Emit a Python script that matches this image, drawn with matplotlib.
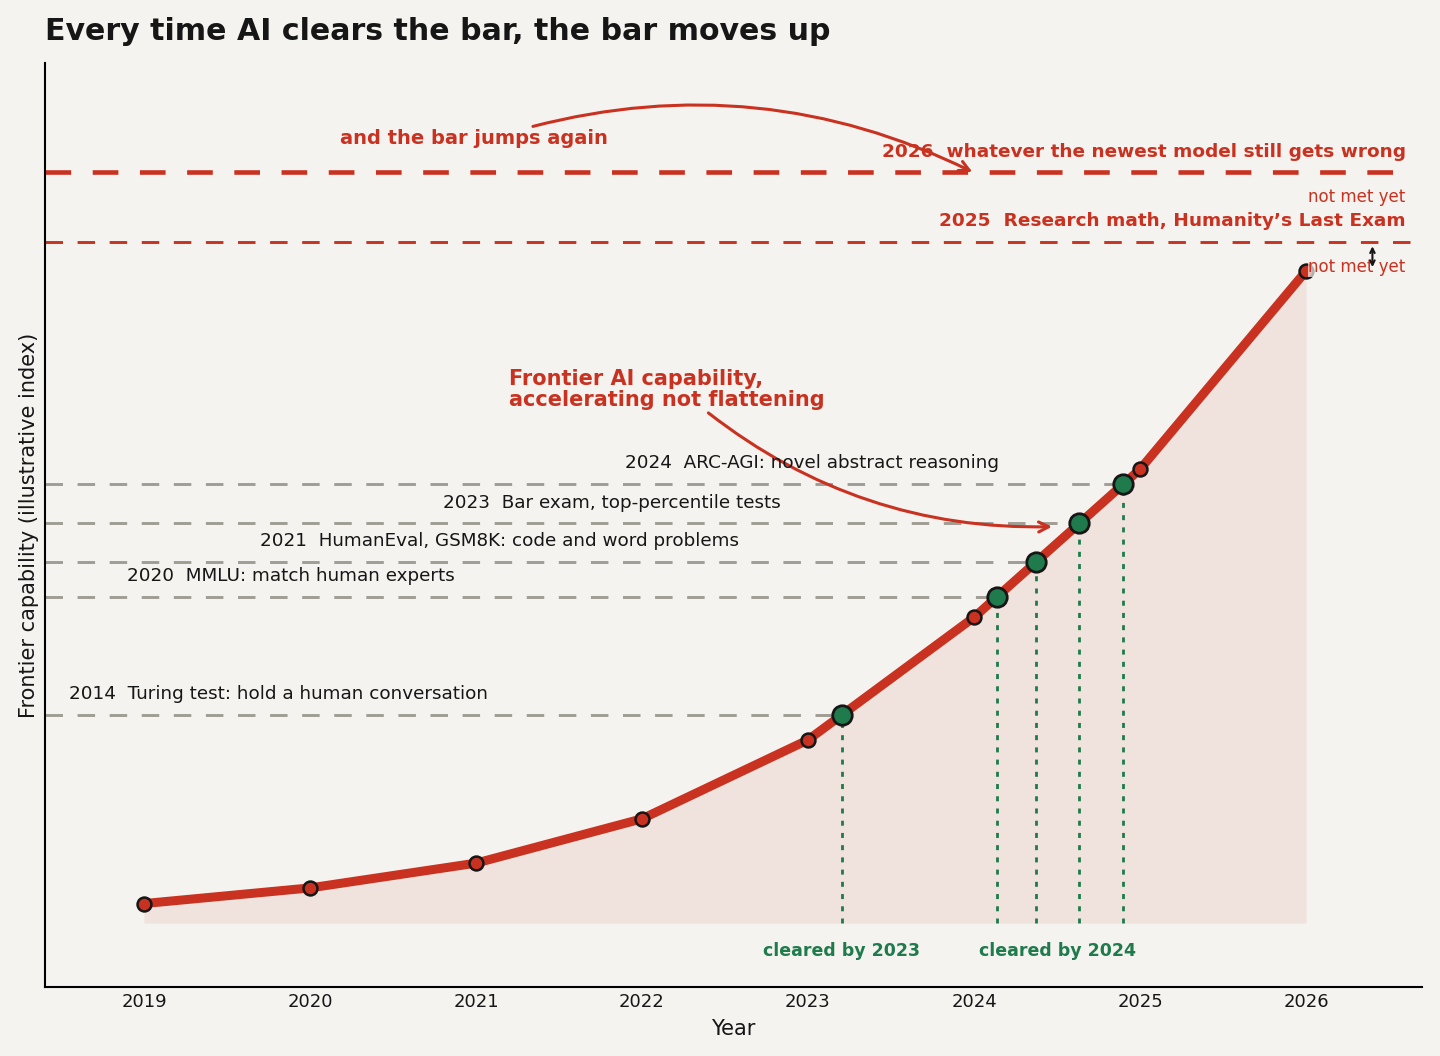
import numpy as np
import matplotlib
matplotlib.use("Agg")
import matplotlib.pyplot as plt

# ---------------- data ----------------
years = [2019, 2020, 2021, 2022, 2023, 2024, 2025, 2026]
capability = [3.0, 5.4, 9.2, 16.0, 28.1, 46.9, 69.6, 100.0]

met_labels = ["2014  Turing test: hold a human conversation",
              "2020  MMLU: match human experts",
              "2021  HumanEval, GSM8K: code and word problems",
              "2023  Bar exam, top-percentile tests",
              "2024  ARC-AGI: novel abstract reasoning"]
met_levels = [31.9, 50.0, 55.4, 61.3, 67.3]
met_label_x = [2018.55, 2018.9, 2019.7, 2020.8, 2021.9]

unmet_labels = ["2025  Research math, Humanity\u2019s Last Exam",
                "2026  whatever the newest model still gets wrong"]
unmet_levels = [104.4, 115.2]

cleared_labels = ["cleared by 2023", "cleared by 2024"]
cleared_x = [2023.2, 2024.5]

# ---------------- style ----------------
BG = "#f5f3ef"
RED = "#c93220"
GREEN = "#1f7a4c"
GREY = "#a09d94"
FILL = "#f0e2dd"
INK = "#161616"

plt.rcParams["font.family"] = ["DejaVu Sans"]

fig = plt.figure(figsize=(14.4, 10.56), dpi=100, facecolor=BG)
ax = fig.add_axes([0.03125, 0.0653, 0.9563, 0.875])
ax.set_facecolor(BG)

X0, X1 = 2018.404, 2026.699
ax.set_xlim(X0, X1)
ax.set_ylim(-9.8, 131.9)

# fill under curve
ax.fill_between(years, 0, capability, color=FILL, zorder=1, lw=0)

# crossing points (where curve reaches each bar)
cross_x = np.interp(met_levels, capability, years)

for lvl, cx, lab, lx in zip(met_levels, cross_x, met_labels, met_label_x):
    ax.plot([X0, cx], [lvl, lvl], color=GREY, lw=2.1,
            dashes=(6, 5), zorder=2)
    ax.plot([cx, cx], [0, lvl], color=GREEN, lw=2, dashes=(1.8, 2.6), zorder=2)
    ax.text(lx, lvl + 3.2, lab, fontsize=13.2, color=INK, ha="left", va="center", zorder=5)

# unmet bars
xr = 2026.6
ax.plot([X0, X1], [unmet_levels[0]] * 2, color=RED, lw=2.1, dashes=(6, 5), zorder=2)
ax.plot([X0, xr], [unmet_levels[1]] * 2, color=RED, lw=3.3, dashes=(5.6, 4.7), zorder=2)

# curve
ax.plot(years, capability, color=RED, lw=6.5, zorder=3, solid_capstyle="round")
ax.plot(years, capability, "o", color=RED, markersize=10, markeredgecolor=INK,
        markeredgewidth=1.8, zorder=4)
ax.plot(cross_x, met_levels, "o", color=GREEN, markersize=14, markeredgecolor=INK,
        markeredgewidth=2, zorder=4)

# unmet labels
ax.text(xr, unmet_levels[1] + 3.1, unmet_labels[1], fontsize=13.3, fontweight="bold",
        color=RED, ha="right", va="center", zorder=6)
ax.text(xr, unmet_levels[1] - 3.8, "not met yet", fontsize=12, color=RED,
        ha="right", va="center", zorder=6)
ax.text(xr, unmet_levels[0] + 3.3, unmet_labels[0], fontsize=13.3, fontweight="bold",
        color=RED, ha="right", va="center", zorder=6)
ax.text(xr, unmet_levels[0] - 3.8, "not met yet", fontsize=12, color=RED,
        ha="right", va="center", zorder=6,
        bbox=dict(facecolor=BG, edgecolor="none", alpha=0.7, pad=0.5))

# small gap arrow
ax.annotate("", xy=(2026.4, capability[-1] + 0.6), xytext=(2026.4, unmet_levels[0] - 0.6),
            arrowprops=dict(arrowstyle="<->", color=INK, lw=1.5,
                            shrinkA=0, shrinkB=0, mutation_scale=8), zorder=6)

# annotations
ax.annotate("and the bar jumps again", xy=(2023.99, unmet_levels[1]),
            xytext=(2020.99, 120.3), fontsize=14, fontweight="bold", color=RED,
            ha="center", va="center",
            arrowprops=dict(arrowstyle="->", color=RED, lw=2.2,
                            connectionstyle="arc3,rad=-0.19",
                            shrinkA=0, shrinkB=0, mutation_scale=18,
                            relpos=(0.68, 1.0)))

ax.annotate("Frontier AI capability,\naccelerating not flattening",
            xy=(2024.47, 60.8), xytext=(2021.2, 81.8),
            fontsize=15, fontweight="bold", color=RED, ha="left", va="center",
            linespacing=1.05,
            arrowprops=dict(arrowstyle="->", color=RED, lw=2.2,
                            connectionstyle="arc3,rad=0.18",
                            shrinkA=0, shrinkB=0, mutation_scale=18,
                            relpos=(0.62, 0.0)))

# cleared labels
for lab, cx in zip(cleared_labels, cleared_x):
    ax.text(cx, -4.2, lab, fontsize=12.5, fontweight="bold", color=GREEN,
            ha="center", va="center")

# axes styling
ax.spines["top"].set_visible(False)
ax.spines["right"].set_visible(False)
ax.spines["left"].set_linewidth(1.5)
ax.spines["bottom"].set_linewidth(1.5)
ax.set_yticks([])
ax.set_xticks(years)
ax.set_xticklabels([str(y) for y in years])
ax.tick_params(axis="x", labelsize=13, colors=INK, length=0, pad=4)
ax.set_xlabel("Year", fontsize=15, color=INK, labelpad=6)
ax.set_ylabel("Frontier capability (illustrative index)", fontsize=15, color=INK, labelpad=4)

fig.text(0.03125, 0.97, "Every time AI clears the bar, the bar moves up",
         fontsize=21.6, fontweight="bold", color=INK, ha="left", va="center")

fig.savefig("out.png", dpi=100, facecolor=BG)
